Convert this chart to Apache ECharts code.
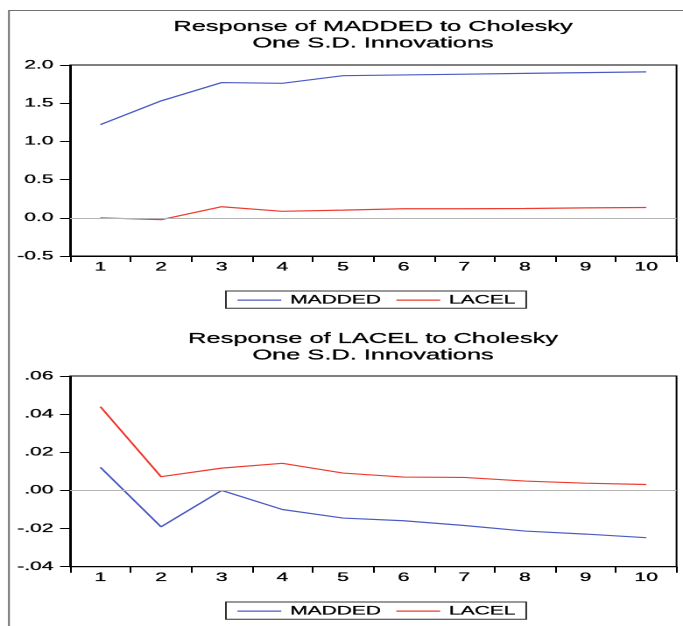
<!DOCTYPE html>
<html>
<head>
<meta charset="utf-8">
<script src="https://cdn.jsdelivr.net/npm/echarts@6/dist/echarts.min.js"></script>
<style>
  html, body { margin: 0; padding: 0; background: #fff; overflow: hidden; }
  #chart { position: absolute; left: 0; top: 0; width: 390px; height: 626px;
           transform: scaleX(1.7513); transform-origin: 0 0; }
</style>
</head>
<body>
<div id="chart"></div>
<script>
// ---- data ----
var periods = ['1','2','3','4','5','6','7','8','9','10'];
var seriesNames = ['MADDED', 'LACEL'];

// Response of MADDED
var maddedToMadded = [1.22, 1.53, 1.77, 1.76, 1.86, 1.87, 1.88, 1.89, 1.90, 1.91];
var maddedToLacel  = [0.00, -0.025, 0.145, 0.085, 0.10, 0.118, 0.118, 0.122, 0.13, 0.135];

// Response of LACEL
var lacelToMadded = [0.0121, -0.0191, 0.0000, -0.0100, -0.0145, -0.0159, -0.0184, -0.0213, -0.0229, -0.0248];
var lacelToLacel  = [0.0439, 0.0072, 0.0117, 0.0142, 0.0091, 0.0070, 0.0068, 0.0049, 0.0038, 0.0031];

var title1 = 'Response of MADDED to Cholesky\nOne S.D. Innovations';
var title2 = 'Response of LACEL to Cholesky\nOne S.D. Innovations';

// ---- styles ----
var BLUE = '#4b5bc4';
var RED = '#ee3b2f';
var FONT = 'Liberation Sans, Arial, sans-serif';
var TB = { textBorderColor: '#000', textBorderWidth: 0.25 };

function xAxisCfg(gi) {
  return {
    type: 'category', gridIndex: gi, data: periods, boundaryGap: true,
    axisLine: { show: true, onZero: false, lineStyle: { color: '#000', width: 1 } },
    axisTick: { show: true, interval: 0, inside: false, length: 6, lineStyle: { color: '#000' } },
    axisLabel: Object.assign({ color: '#000', fontFamily: FONT, fontSize: 12, margin: 5, interval: 0 }, TB),
    splitLine: { show: false }
  };
}
function yAxisCfg(gi, min, max, interval, fmt) {
  return {
    type: 'value', gridIndex: gi, min: min, max: max, interval: interval,
    axisLine: { show: true, lineStyle: { color: '#000', width: 1 } },
    axisTick: { show: true, inside: false, length: 5.7, lineStyle: { color: '#000' } },
    axisLabel: Object.assign({ color: '#000', fontFamily: FONT, fontSize: 12, margin: 9.5, formatter: fmt }, TB),
    splitLine: { show: false }
  };
}
function zeroLine() {
  return {
    silent: true, symbol: ['none', 'none'], animation: false,
    label: { show: false },
    lineStyle: { color: '#b4b4b4', type: 'solid', width: 1 },
    data: [{ yAxis: 0 }]
  };
}
function lineSeries(name, data, gi, color, withZero) {
  var s = {
    name: name, type: 'line', xAxisIndex: gi, yAxisIndex: gi, data: data,
    symbol: 'none', smooth: false, animation: false,
    lineStyle: { color: color, width: 1.2 }, itemStyle: { color: color }
  };
  if (withZero) s.markLine = zeroLine();
  return s;
}
function legendCfg(top) {
  return {
    top: top, left: 129, orient: 'horizontal',
    data: seriesNames,
    itemWidth: 25, itemHeight: 12, itemGap: 8,
    borderColor: '#333', borderWidth: 1, padding: [3, 6, 2, 6],
    backgroundColor: '#fff',
    itemStyle: { opacity: 0 },
    lineStyle: { width: 1.2 },
    textStyle: Object.assign({ color: '#000', fontFamily: FONT, fontSize: 12 }, TB),
    selectedMode: false
  };
}
function titleCfg(text, top) {
  return {
    text: text, left: 213, top: top, textAlign: 'center', padding: 0,
    textStyle: Object.assign({ color: '#000', fontFamily: FONT, fontSize: 14.5, fontWeight: 'normal', lineHeight: 16.3 }, TB)
  };
}

var chart = echarts.init(document.getElementById('chart'), null, { renderer: 'canvas', devicePixelRatio: 2 });
chart.setOption({
  backgroundColor: '#fff',
  animation: false,
  title: [ titleCfg(title1, 19), titleCfg(title2, 331) ],
  legend: [ legendCfg(291), legendCfg(602) ],
  graphic: [{
    type: 'rect', silent: true, z: -10,
    shape: { x: 5.1, y: 10.5, width: 600, height: 800 },
    style: { fill: 'none', stroke: '#707070', lineWidth: 1 }
  }],
  grid: [
    { left: 40, right: 3.7, top: 65, height: 191, show: true, borderColor: '#000', borderWidth: 1, backgroundColor: 'transparent' },
    { left: 40, right: 3.7, top: 376, height: 190.7, show: true, borderColor: '#000', borderWidth: 1, backgroundColor: 'transparent' }
  ],
  xAxis: [ xAxisCfg(0), xAxisCfg(1) ],
  yAxis: [
    yAxisCfg(0, -0.5, 2.0, 0.5, function (v) { return v.toFixed(1); }),
    yAxisCfg(1, -0.04, 0.06, 0.02, function (v) { return v.toFixed(2).replace('0.', '.'); })
  ],
  series: [
    lineSeries(seriesNames[0], maddedToMadded, 0, BLUE, true),
    lineSeries(seriesNames[1], maddedToLacel, 0, RED, false),
    lineSeries(seriesNames[0], lacelToMadded, 1, BLUE, true),
    lineSeries(seriesNames[1], lacelToLacel, 1, RED, false)
  ]
});
</script>
</body>
</html>
